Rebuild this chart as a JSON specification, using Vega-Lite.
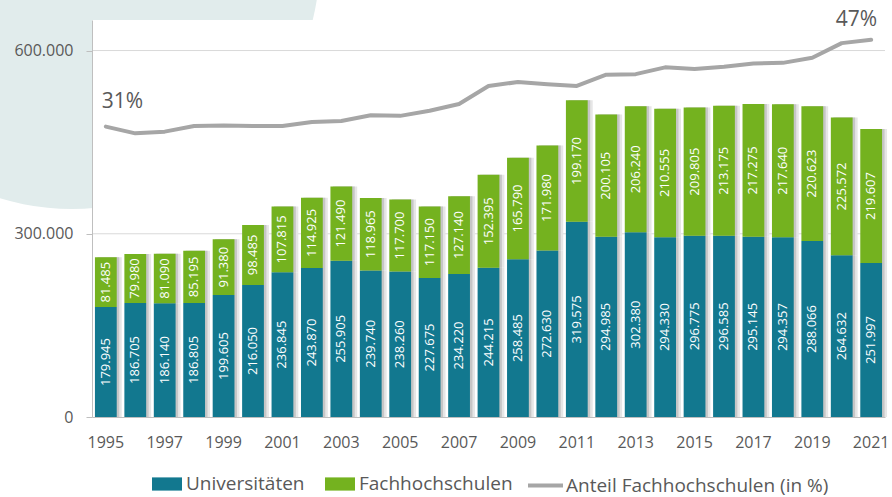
{
  "$schema": "https://vega.github.io/schema/vega-lite/v6.json",
  "width": 793,
  "height": 397,
  "autosize": {"type": "none"},
  "padding": {"left": 92, "top": 20, "right": 7, "bottom": 80},
  "background": "white",
  "config": {
    "font": "Open Sans",
    "view": {"stroke": null},
    "locale": {"number": {"decimal": ",", "thousands": ".", "grouping": [3], "currency": ["", " €"]}},
    "axis": {"grid": false, "domainColor": "#bfbfbf", "tickColor": "#bfbfbf", "labelColor": "#595959", "labelFontSize": 16, "labelFont": "Open Sans", "title": null}
  },
  "datasets": {
    "counts": [
      {"year": 1995, "type": "Universitäten", "value": 179945}, {"year": 1995, "type": "Fachhochschulen", "value": 81485},
      {"year": 1996, "type": "Universitäten", "value": 186705}, {"year": 1996, "type": "Fachhochschulen", "value": 79980},
      {"year": 1997, "type": "Universitäten", "value": 186140}, {"year": 1997, "type": "Fachhochschulen", "value": 81090},
      {"year": 1998, "type": "Universitäten", "value": 186805}, {"year": 1998, "type": "Fachhochschulen", "value": 85195},
      {"year": 1999, "type": "Universitäten", "value": 199605}, {"year": 1999, "type": "Fachhochschulen", "value": 91380},
      {"year": 2000, "type": "Universitäten", "value": 216050}, {"year": 2000, "type": "Fachhochschulen", "value": 98485},
      {"year": 2001, "type": "Universitäten", "value": 236845}, {"year": 2001, "type": "Fachhochschulen", "value": 107815},
      {"year": 2002, "type": "Universitäten", "value": 243870}, {"year": 2002, "type": "Fachhochschulen", "value": 114925},
      {"year": 2003, "type": "Universitäten", "value": 255905}, {"year": 2003, "type": "Fachhochschulen", "value": 121490},
      {"year": 2004, "type": "Universitäten", "value": 239740}, {"year": 2004, "type": "Fachhochschulen", "value": 118965},
      {"year": 2005, "type": "Universitäten", "value": 238260}, {"year": 2005, "type": "Fachhochschulen", "value": 117700},
      {"year": 2006, "type": "Universitäten", "value": 227675}, {"year": 2006, "type": "Fachhochschulen", "value": 117150},
      {"year": 2007, "type": "Universitäten", "value": 234220}, {"year": 2007, "type": "Fachhochschulen", "value": 127140},
      {"year": 2008, "type": "Universitäten", "value": 244215}, {"year": 2008, "type": "Fachhochschulen", "value": 152395},
      {"year": 2009, "type": "Universitäten", "value": 258485}, {"year": 2009, "type": "Fachhochschulen", "value": 165790},
      {"year": 2010, "type": "Universitäten", "value": 272630}, {"year": 2010, "type": "Fachhochschulen", "value": 171980},
      {"year": 2011, "type": "Universitäten", "value": 319575}, {"year": 2011, "type": "Fachhochschulen", "value": 199170},
      {"year": 2012, "type": "Universitäten", "value": 294985}, {"year": 2012, "type": "Fachhochschulen", "value": 200105},
      {"year": 2013, "type": "Universitäten", "value": 302380}, {"year": 2013, "type": "Fachhochschulen", "value": 206240},
      {"year": 2014, "type": "Universitäten", "value": 294330}, {"year": 2014, "type": "Fachhochschulen", "value": 210555},
      {"year": 2015, "type": "Universitäten", "value": 296775}, {"year": 2015, "type": "Fachhochschulen", "value": 209805},
      {"year": 2016, "type": "Universitäten", "value": 296585}, {"year": 2016, "type": "Fachhochschulen", "value": 213175},
      {"year": 2017, "type": "Universitäten", "value": 295145}, {"year": 2017, "type": "Fachhochschulen", "value": 217275},
      {"year": 2018, "type": "Universitäten", "value": 294357}, {"year": 2018, "type": "Fachhochschulen", "value": 217640},
      {"year": 2019, "type": "Universitäten", "value": 288066}, {"year": 2019, "type": "Fachhochschulen", "value": 220623},
      {"year": 2020, "type": "Universitäten", "value": 264632}, {"year": 2020, "type": "Fachhochschulen", "value": 225572},
      {"year": 2021, "type": "Universitäten", "value": 251997}, {"year": 2021, "type": "Fachhochschulen", "value": 219607}
    ],
    "share": [
      {"year": 1995, "pct": 31.2}, {"year": 1996, "pct": 30.0}, {"year": 1997, "pct": 30.3}, {"year": 1998, "pct": 31.3},
      {"year": 1999, "pct": 31.4}, {"year": 2000, "pct": 31.3}, {"year": 2001, "pct": 31.3}, {"year": 2002, "pct": 32.0},
      {"year": 2003, "pct": 32.2}, {"year": 2004, "pct": 33.2}, {"year": 2005, "pct": 33.1}, {"year": 2006, "pct": 34.0},
      {"year": 2007, "pct": 35.2}, {"year": 2008, "pct": 38.4}, {"year": 2009, "pct": 39.1}, {"year": 2010, "pct": 38.7},
      {"year": 2011, "pct": 38.4}, {"year": 2012, "pct": 40.4}, {"year": 2013, "pct": 40.5}, {"year": 2014, "pct": 41.7},
      {"year": 2015, "pct": 41.4}, {"year": 2016, "pct": 41.8}, {"year": 2017, "pct": 42.4}, {"year": 2018, "pct": 42.5},
      {"year": 2019, "pct": 43.4}, {"year": 2020, "pct": 46.0}, {"year": 2021, "pct": 46.6}
    ],
    "grid": [{"g": 300000}, {"g": 600000}]
  },
  "resolve": {"scale": {"y": "independent"}},
  "layer": [
    {
      "data": {"name": "counts"},
      "layer": [
        {
          "data": {"values": [{}]},
          "mark": {"type": "point", "shape": "circle", "filled": true, "opacity": 1, "color": "#e1ecec", "size": 246016, "xOffset": -34, "strokeWidth": 0},
          "encoding": {
            "x": {"datum": 1995, "type": "ordinal"},
            "y": {"datum": 746600, "type": "quantitative", "scale": {"domain": [0, 650000], "nice": false}}
          }
        },
        {
          "data": {"values": [{}]},
          "mark": {"type": "rect", "color": "white"},
          "encoding": {
            "y": {"datum": 0, "type": "quantitative", "scale": {"domain": [0, 650000], "nice": false}},
            "y2": {"datum": 650000}
          }
        },
        {
          "data": {"name": "grid"},
          "mark": {"type": "rule", "color": "#d9d9d9", "strokeWidth": 1},
          "encoding": {
            "y": {"field": "g", "type": "quantitative", "scale": {"domain": [0, 650000], "nice": false}}
          }
        },
        {
          "mark": {"type": "bar", "color": "#e6e6e6", "xOffset": 5},
          "encoding": {
            "x": {"field": "year", "type": "ordinal"},
            "y": {"field": "value", "type": "quantitative", "stack": "zero", "scale": {"domain": [0, 650000], "nice": false}},
            "detail": {"field": "type"},
            "order": {"field": "type", "sort": "descending"}
          }
        },
        {
          "mark": {"type": "bar", "color": "#c6c6c6", "xOffset": 2.5},
          "encoding": {
            "x": {"field": "year", "type": "ordinal"},
            "y": {"field": "value", "type": "quantitative", "stack": "zero", "scale": {"domain": [0, 650000], "nice": false}},
            "detail": {"field": "type"},
            "order": {"field": "type", "sort": "descending"}
          }
        },
        {
          "mark": {"type": "bar"},
          "encoding": {
            "x": {
              "field": "year", "type": "ordinal",
              "scale": {"paddingInner": 0.26, "paddingOuter": 0.1},
              "axis": {"values": [1995, 1997, 1999, 2001, 2003, 2005, 2007, 2009, 2011, 2013, 2015, 2017, 2019, 2021], "labelAngle": 0, "labelAlign": "center", "bandPosition": 0.5, "ticks": false, "labelPadding": 25, "domain": true, "title": null, "zindex": 1}
            },
            "y": {
              "field": "value", "type": "quantitative", "stack": "zero",
              "scale": {"domain": [0, 650000], "nice": false},
              "axis": {"values": [0, 300000, 600000], "format": ",.0f", "tickSize": 6, "labelPadding": 13, "labelAlign": "right", "title": null, "zindex": 1}
            },
            "color": {
              "field": "type", "type": "nominal",
              "scale": {"domain": ["Universitäten", "Fachhochschulen"], "range": ["#12788f", "#74b21f"]},
              "legend": {"title": null, "orient": "none", "legendX": 60, "legendY": 449, "direction": "horizontal", "symbolType": "M-1,-0.44H1V0.44H-1Z", "symbolSize": 900, "symbolStrokeWidth": 0, "labelFontSize": 19, "labelColor": "#595959", "labelOffset": 4, "columnPadding": 20, "padding": 0, "labelLimit": 400}
            },
            "order": {"field": "type", "sort": "descending"}
          }
        },
        {
          "mark": {"type": "text", "angle": 270, "color": "white", "fontSize": 13},
          "encoding": {
            "x": {"field": "year", "type": "ordinal"},
            "y": {"field": "value", "type": "quantitative", "stack": "zero", "bandPosition": 0.5, "scale": {"domain": [0, 650000], "nice": false}},
            "detail": {"field": "type"},
            "order": {"field": "type", "sort": "descending"},
            "text": {"field": "value", "type": "quantitative", "format": ","}
          }
        }
      ]
    },
    {
      "data": {"name": "share"},
      "layer": [
        {
          "mark": {"type": "line", "strokeWidth": 4, "strokeJoin": "round", "strokeCap": "round"},
          "encoding": {
            "x": {"field": "year", "type": "ordinal"},
            "y": {"field": "pct", "type": "quantitative", "scale": {"domain": [-20.3, 50.1], "nice": false, "zero": false}, "axis": null},
            "stroke": {
              "datum": "Anteil Fachhochschulen (in %)",
              "scale": {"range": ["#a6a6a6"]},
              "legend": {"title": null, "orient": "none", "legendX": 434, "legendY": 446, "symbolType": "stroke", "symbolSize": 1225, "symbolStrokeWidth": 4, "labelFontSize": 19, "labelColor": "#595959", "labelOffset": 1, "padding": 0, "labelLimit": 400}
            }
          }
        },
        {
          "data": {"values": [{"year": 1995, "pct": 31.2, "label": "31%"}]},
          "mark": {"type": "text", "align": "left", "baseline": "alphabetic", "dx": -4, "dy": -19, "fontSize": 21, "color": "#595959"},
          "encoding": {
            "x": {"field": "year", "type": "ordinal"},
            "y": {"field": "pct", "type": "quantitative", "scale": {"domain": [-20.3, 50.1], "nice": false, "zero": false}, "axis": null},
            "text": {"field": "label"}
          }
        },
        {
          "data": {"values": [{"year": 2021, "pct": 46.6, "label": "47%"}]},
          "mark": {"type": "text", "align": "right", "baseline": "alphabetic", "dx": 6, "dy": -14, "fontSize": 21, "color": "#595959"},
          "encoding": {
            "x": {"field": "year", "type": "ordinal"},
            "y": {"field": "pct", "type": "quantitative", "scale": {"domain": [-20.3, 50.1], "nice": false, "zero": false}, "axis": null},
            "text": {"field": "label"}
          }
        }
      ]
    }
  ]
}
